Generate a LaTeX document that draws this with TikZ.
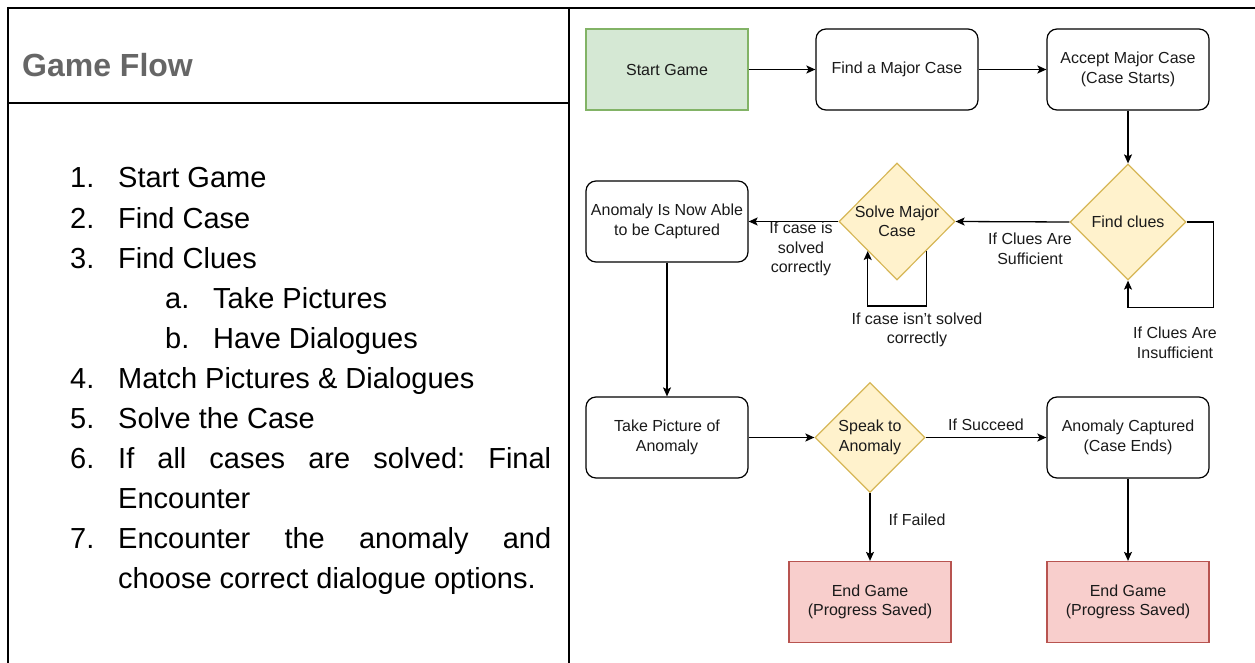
\documentclass[tikz,border=0pt]{standalone}
\usepackage{fontspec}
\setmainfont{Liberation Sans}
\usetikzlibrary{shapes.geometric,arrows.meta}
\frenchspacing

\definecolor{titlegray}{HTML}{666666}
\definecolor{greenfill}{HTML}{D5E8D4}
\definecolor{greenline}{HTML}{82B366}
\definecolor{yellowfill}{HTML}{FFF2CC}
\definecolor{yellowline}{HTML}{D6B656}
\definecolor{redfill}{HTML}{F8CECC}
\definecolor{redline}{HTML}{B85450}
\definecolor{ink}{HTML}{1A1A1A}

\tikzset{
  rule/.style={line width=2pt, black},
  listtext/.style={inner sep=0pt, anchor=base west, font=\fontsize{29}{40}\selectfont},
  flowfont/.style={font=\fontsize{16}{19.5}\selectfont, text=ink, align=center},
  procbox/.style={flowfont, draw=black, line width=1.2pt, rounded corners=10pt,
    minimum width=162pt, minimum height=81pt, inner sep=2pt},
  startbox/.style={procbox, rounded corners=0pt, fill=greenfill, draw=greenline},
  endbox/.style={procbox, rounded corners=0pt, fill=redfill, draw=redline},
  decision/.style={flowfont, shape=diamond, aspect=1, draw=yellowline, fill=yellowfill,
    line width=1.2pt, inner sep=0pt},
  flowlabel/.style={flowfont, inner sep=1pt},
  arr/.style={line width=1.3pt, black, -{Stealth[length=9pt,width=8pt,inset=2pt]}},
}

\begin{document}
\begin{tikzpicture}[x=1pt, y=-1pt]
\useasboundingbox (0,0) rectangle (1255,663);

% table frame
\draw[rule] (8,8) -- (1255,8);
\draw[rule] (8,7) -- (8,663);
\draw[rule] (569,7) -- (569,663);
\draw[rule] (8,103) -- (569,103);

% header
\node[inner sep=0pt, anchor=base west, text=titlegray,
      font=\fontsize{32}{38}\selectfont\bfseries] (title) at (22,77) {Game Flow};

% numbered list
\node[listtext] (n1) at (70,188) {1.};
\node[listtext] (t1) at (118,188) {Start Game};
\node[listtext] (n2) at (70,228) {2.};
\node[listtext] (t2) at (118,228) {Find Case};
\node[listtext] (n3) at (70,268) {3.};
\node[listtext] (t3) at (118,268) {Find Clues};
\node[listtext] (na) at (165,308) {a.};
\node[listtext] (ta) at (213,308) {Take Pictures};
\node[listtext] (nb) at (165,348) {b.};
\node[listtext] (tb) at (213,348) {Have Dialogues};
\node[listtext] (n4) at (70,388) {4.};
\node[listtext] (t4) at (118,388) {Match Pictures \& Dialogues};
\node[listtext] (n5) at (70,428) {5.};
\node[listtext] (t5) at (118,428) {Solve the Case};
\node[listtext] (n6) at (70,468) {6.};
\node[listtext] (t6) at (118,468) {\makebox[433pt][s]{If all cases are solved: Final}};
\node[listtext] (t6b) at (118,508) {Encounter};
\node[listtext] (n7) at (70,548) {7.};
\node[listtext] (t7) at (118,548) {\makebox[433pt][s]{Encounter the anomaly and}};
\node[listtext] (t7b) at (118,588) {choose correct dialogue options.};

% flow chart boxes
\node[startbox] (start) at (667,69.5) {Start Game};
\node[procbox] (find) at (897,69.5) {Find a Major Case};
\node[procbox] (accept) at (1128,69.5) {Accept Major Case\\(Case Starts)};
\node[decision, minimum width=116pt, minimum height=116pt] (clues) at (1128,222) {Find clues};
\node[decision, minimum width=116pt, minimum height=117pt] (solve) at (897,221.5) {Solve Major\\Case};
\node[procbox] (able) at (667,221.5) {Anomaly Is Now Able\\to be Captured};
\node[procbox] (photo) at (667,437.5) {Take Picture of\\Anomaly};
\node[decision, minimum width=110pt, minimum height=110pt] (speak) at (870,437.5) {Speak to\\Anomaly};
\node[procbox] (captured) at (1128,437.5) {Anomaly Captured\\(Case Ends)};
\node[endbox] (end1) at (870,602) {End Game\\(Progress Saved)};
\node[endbox] (end2) at (1128,602) {End Game\\(Progress Saved)};

% connectors
\draw[arr] (start) -- (find);
\draw[arr] (find) -- (accept);
\draw[arr] (accept) -- (clues);
\draw[arr] (clues.west) -- (solve.east);
\draw[arr] (clues.east) -- ++(27,0) |- ([yshift=-27pt]clues.south) -- (clues.south);
\draw[arr] (solve.west) -- (able.east);
\draw[arr] (solve.south east) -- ++(0,55) -| (solve.south west);
\draw[arr] (able) -- (photo);
\draw[arr] (photo) -- (speak.west);
\draw[arr] (speak.east) -- (captured);
\draw[arr] (speak.south) -- (end1);
\draw[arr] (captured) -- (end2);

% connector labels
\node[flowlabel] (lsuff) at (1030,249) {If Clues Are\\Sufficient};
\node[flowlabel] (linsuff) at (1175,343) {If Clues Are\\Insufficient};
\node[flowlabel] (lsolved) at (801,249) {If case is\\solved\\correctly};
\node[flowlabel] (lnot) at (917,330) {If case isn't solved\\correctly};
\node[flowlabel] (lsucc) at (986,425) {If Succeed};
\node[flowlabel] (lfail) at (917,520) {If Failed};
\end{tikzpicture}
\end{document}
